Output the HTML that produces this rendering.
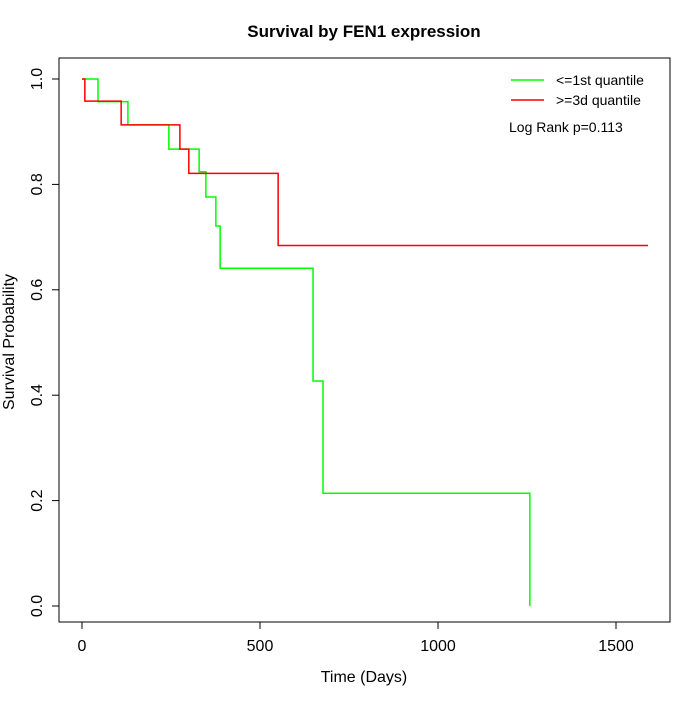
<!DOCTYPE html>
<html><head><meta charset="utf-8"><style>
body{margin:0;background:#fff;font-family:"Liberation Sans",sans-serif}
svg text{font-family:"Liberation Sans",sans-serif}
</style></head><body>
<svg id="c" width="700" height="700">
<text x="364" y="37" text-anchor="middle" font-size="17" font-weight="bold">Survival by FEN1 expression</text>
<rect x="59" y="58" width="611" height="564" fill="none" stroke="#000"/>
<text x="364" y="682" text-anchor="middle" font-size="16">Time (Days)</text>
<text transform="translate(14,342) rotate(-90)" text-anchor="middle" font-size="16">Survival Probability</text>
<g id="ax"></g><g id="series"></g>
<g>
<line x1="511" y1="80" x2="544" y2="80" stroke="#0f0" stroke-width="1.5"/>
<text x="556" y="85" font-size="14">&lt;=1st quantile</text>
<line x1="511" y1="100" x2="544" y2="100" stroke="#f00" stroke-width="1.5"/>
<text x="556" y="105" font-size="14">&gt;=3d quantile</text>
<text x="509" y="132" font-size="14">Log Rank p=0.113</text>
</g>
</svg>
<script>
const xTicks=[0,500,1000,1500];
const yTicks=[0,0.2,0.4,0.6,0.8,1.0];
const lowTimes=[0,45,129,244,329,348,376,388,649,677,1258];
const lowSurv=[1.0,0.957,0.913,0.867,0.824,0.776,0.721,0.641,0.427,0.214,0.0];
const lowEnd=1258;
const highTimes=[0,8,110,275,300,551];
const highSurv=[1.0,0.958,0.913,0.867,0.821,0.684];
const highEnd=1590;
const X=d=>82+d*0.356, Y=v=>606-v*527;
const NS='http://www.w3.org/2000/svg';
function mk(t,a,p){const e=document.createElementNS(NS,t);for(const k in a)e.setAttribute(k,a[k]);p.appendChild(e);return e;}
const ax=document.getElementById('ax');
mk('line',{x1:X(0),x2:X(1500),y1:622,y2:622,stroke:'#000'},ax);
xTicks.forEach(t=>{const l=mk('line',{x1:X(t),x2:X(t),y1:622,y2:629,stroke:'#000'},ax);


const tx=mk('text',{x:X(t),y:651,'text-anchor':'middle','font-size':16},ax);tx.textContent=t;

});
mk('line',{x1:59,x2:59,y1:Y(0),y2:Y(1),stroke:'#000'},ax);
yTicks.forEach(t=>{const l=mk('line',{x1:52,x2:59,y1:Y(t),y2:Y(t),stroke:'#000'},ax);


const tx=mk('text',{transform:`translate(42,${Y(t)}) rotate(-90)`,'text-anchor':'middle','font-size':16},ax);tx.textContent=t.toFixed(1);

});
function step(times,surv,end,col,name){let d=`M${X(times[0])},${Y(surv[0])}`;
for(let i=1;i<times.length;i++){d+=`H${X(times[i])}V${Y(surv[i])}`;}
d+=`H${X(end)}`;
const p=mk('path',{d:d,fill:'none',stroke:col,'stroke-width':1.5},document.getElementById('series'));

}
step(lowTimes,lowSurv,lowEnd,'#0f0','curve-low-expression');
step(highTimes,highSurv,highEnd,'#f00','curve-high-expression');
</script>
</body></html>
